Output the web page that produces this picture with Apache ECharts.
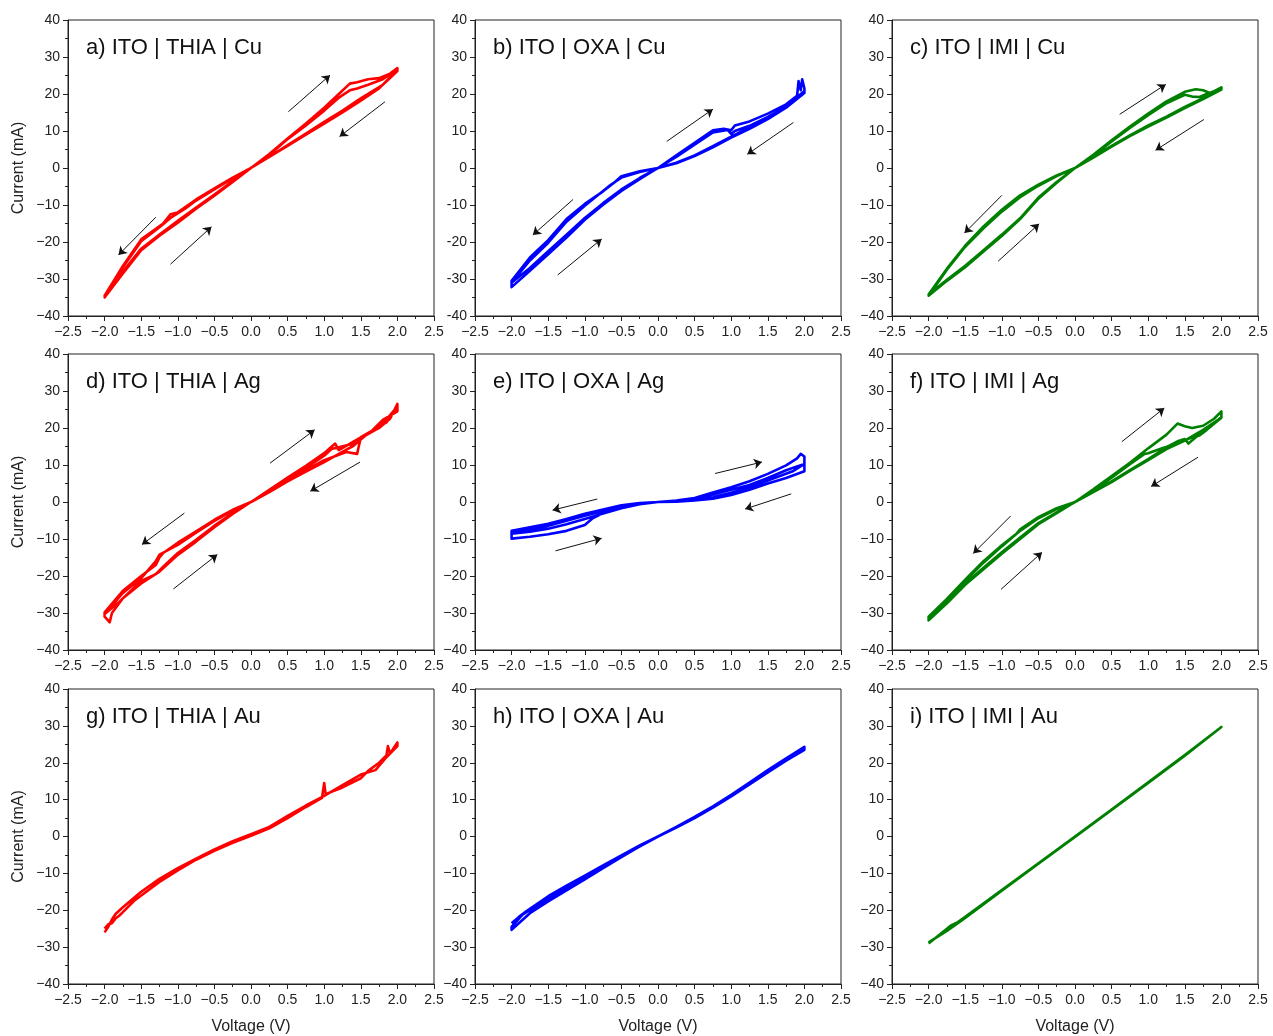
<!DOCTYPE html>
<html>
<head>
<meta charset="utf-8">
<script src="https://cdn.jsdelivr.net/npm/echarts@6/dist/echarts.min.js"></script>
<style>
html,body{margin:0;padding:0;background:#fff}
#chart{width:1273px;height:1036px}
</style>
</head>
<body>
<div id="chart"></div>
<script>
// panel labels, row by row
const titles = [
  'a) ITO | THIA | Cu', 'b) ITO | OXA | Cu', 'c) ITO | IMI | Cu',
  'd) ITO | THIA | Ag', 'e) ITO | OXA | Ag', 'f) ITO | IMI | Ag',
  'g) ITO | THIA | Au', 'h) ITO | OXA | Au', 'i) ITO | IMI | Au'
]
const xTicks = [-2.5, -2.0, -1.5, -1.0, -0.5, 0.0, 0.5, 1.0, 1.5, 2.0, 2.5]
const yTicks = [-40, -30, -20, -10, 0, 10, 20, 30, 40]

// I-V sweeps, [voltage V, current mA], in sweep order
const ivA = [
  [0,0],[0.25,3.8],[0.5,8],[0.75,12],[1.0,16.3],[1.2,20],[1.35,22.8],[1.45,23.2],[1.6,24],[1.75,24.3],[1.9,25.5],[2.0,27],
  [2.0,26.2],[1.8,22.5],[1.5,18.8],[1.25,15.5],[1.0,12.5],[0.75,9.3],[0.5,6.2],[0.25,3],[0,0],
  [-0.25,-2.8],[-0.5,-5.8],[-0.75,-8.8],[-0.9,-11],[-1.1,-13.5],[-1.25,-16],[-1.5,-19.8],[-1.75,-26.8],[-2.0,-35],
  [-2.0,-35.5],[-1.75,-28.5],[-1.5,-22.2],[-1.25,-18.3],[-1.0,-14.8],[-0.75,-11],[-0.5,-7.5],[-0.25,-3.8],[0,0],
  [0.25,3.5],[0.5,7.8],[0.75,11.5],[1.0,15.5],[1.2,19],[1.35,21],[1.45,21.5],[1.6,22.5],[1.8,24],[2.0,26.5],
  [1.75,21.5],[1.5,18.2],[1.25,15],[1.0,12],[0.75,9],[0.5,6],[0.25,3],[0,0],
  [-0.25,-2.6],[-0.5,-5.5],[-0.75,-8.5],[-1.0,-12],[-1.1,-12.5],[-1.2,-15],[-1.5,-19.3],[-1.75,-26.5],[-2.0,-34.5],
  [-1.75,-28],[-1.5,-21.8],[-1.25,-18],[-1.0,-14.3],[-0.75,-10.7],[-0.5,-7.2],[-0.25,-3.5],[0,0]
]
const ivB = [
  [0,0],[0.25,3.4],[0.5,6.8],[0.75,10.2],[0.9,10.6],[1.0,10.2],[1.05,11.5],[1.25,12.6],[1.5,14.7],[1.75,17.2],[1.9,19.5],[1.92,23.5],[1.95,21],[1.97,24],[2.0,21.5],
  [2.0,20.3],[1.75,16.3],[1.5,13.2],[1.25,10.6],[1.0,8.2],[0.75,5.6],[0.5,3.2],[0.25,1.3],[0,0],
  [-0.25,-0.9],[-0.5,-2.2],[-0.6,-4],[-0.75,-6.3],[-1.0,-9.7],[-1.25,-13.8],[-1.5,-19.5],[-1.75,-24.2],[-2.0,-30.5],
  [-2.0,-32.2],[-1.75,-27.8],[-1.5,-23.3],[-1.25,-18.8],[-1.0,-14],[-0.75,-9.9],[-0.5,-6.2],[-0.25,-3],[0,0],
  [0.25,3.0],[0.5,6.3],[0.75,9.6],[0.95,10.3],[1.0,9.2],[1.05,10],[1.25,11.4],[1.5,13.8],[1.75,16.5],[1.9,18.7],[2.0,20.8],
  [1.75,16.7],[1.5,13.6],[1.25,11],[1.0,8.5],[0.75,5.9],[0.5,3.4],[0.25,1.4],[0,0],
  [-0.25,-1.1],[-0.5,-2.6],[-0.65,-4.6],[-1.0,-10.2],[-1.25,-14.5],[-1.5,-20.2],[-1.75,-25],[-2.0,-31],
  [-1.75,-27],[-1.5,-22.5],[-1.25,-18],[-1.0,-13.5],[-0.75,-9.5],[-0.5,-5.8],[-0.25,-2.7],[0,0]
]
const ivC = [
  [0,0],[0.25,3.6],[0.5,7.5],[0.75,11.2],[1.0,14.7],[1.25,18],[1.5,20.6],[1.65,21.3],[1.75,21],[1.85,20.2],[2.0,21.8],
  [2.0,21.2],[1.75,18.6],[1.5,16.2],[1.25,13.6],[1.0,11.2],[0.75,8.6],[0.5,5.8],[0.25,2.8],[0,0],
  [-0.25,-2.2],[-0.5,-4.8],[-0.75,-7.9],[-1.0,-11.8],[-1.25,-16.3],[-1.5,-21.3],[-1.75,-27.5],[-2.0,-34.5],
  [-2.0,-35],[-1.75,-30.5],[-1.5,-26.8],[-1.25,-22.6],[-1.0,-18.4],[-0.75,-13.8],[-0.5,-8.3],[-0.25,-4],[0,0],
  [0.25,3.3],[0.5,7.2],[0.75,10.8],[1.0,14.3],[1.25,17.5],[1.5,19.8],[1.6,19.3],[1.7,19.2],[1.8,20],[2.0,21.5],
  [1.75,18.9],[1.5,16.5],[1.25,13.9],[1.0,11.5],[0.75,8.8],[0.5,6],[0.25,3],[0,0],
  [-0.25,-2],[-0.5,-4.5],[-0.75,-7.4],[-1.0,-11.3],[-1.25,-15.8],[-1.5,-21],[-1.75,-27.2],[-2.0,-34.2],
  [-1.75,-30.2],[-1.5,-26.4],[-1.25,-22.2],[-1.0,-18],[-0.75,-13.6],[-0.5,-8],[-0.25,-3.8],[0,0]
]
const ivD = [
  [0,0],[0.25,3.3],[0.5,6.6],[0.75,9.8],[1.0,13.2],[1.15,15.8],[1.2,14],[1.4,16.3],[1.6,18.6],[1.75,20],[1.9,22.5],[2.0,26.5],
  [2.0,24.5],[1.8,22.2],[1.65,19.2],[1.5,17.5],[1.45,13],[1.3,13.5],[1.0,11.3],[0.75,8.6],[0.5,5.9],[0.25,2.9],[0,0],
  [-0.25,-2.1],[-0.5,-4.8],[-0.75,-7.9],[-1.0,-11],[-1.2,-13.8],[-1.25,-15],[-1.3,-17],[-1.5,-20],[-1.75,-24],[-2.0,-29.8],
  [-2.0,-31],[-1.93,-32.5],[-1.9,-30],[-1.75,-26],[-1.5,-22],[-1.25,-18.8],[-1.0,-14.3],[-0.75,-10.7],[-0.5,-6.8],[-0.25,-3.2],[0,0],
  [0.25,3],[0.5,6.2],[0.75,9.2],[1.0,12.5],[1.1,14.3],[1.2,14.8],[1.4,15.8],[1.55,17.8],[1.7,19.5],[1.9,23.5],[2.0,25.8],
  [1.85,21.5],[1.6,18.6],[1.4,15.2],[1.2,13],[1.0,10.8],[0.75,8.2],[0.5,5.6],[0.25,2.7],[0,0],
  [-0.25,-2.3],[-0.5,-5.1],[-0.75,-8.3],[-1.0,-11.6],[-1.25,-14.2],[-1.3,-16],[-1.5,-20.6],[-1.75,-24.6],[-2.0,-30.3],
  [-1.8,-27],[-1.5,-21.3],[-1.3,-19.5],[-1.2,-17.5],[-1.0,-13.8],[-0.75,-10.2],[-0.5,-6.4],[-0.25,-3],[0,0]
]
const ivE = [
  [0,0],[0.25,0.4],[0.5,1.1],[0.75,2.6],[1.0,4.0],[1.25,5.6],[1.5,7.6],[1.75,9.9],[1.9,11.8],[1.95,13],[2.0,12.3],
  [2.0,8.3],[1.75,6.5],[1.5,5],[1.25,3.3],[1.0,1.9],[0.75,0.9],[0.5,0.4],[0.25,0.1],[0,0],
  [-0.25,-0.3],[-0.5,-0.9],[-0.75,-2],[-1.0,-3.2],[-1.25,-4.6],[-1.5,-5.9],[-1.75,-6.8],[-2.0,-7.8],
  [-2.0,-9.9],[-1.75,-9.4],[-1.5,-8.7],[-1.25,-7.8],[-1.0,-6.2],[-0.9,-4.5],[-0.75,-3],[-0.5,-1.6],[-0.25,-0.6],[0,0],
  [0.25,0.3],[0.5,0.9],[0.75,2],[1.0,3.3],[1.25,4.6],[1.5,6.5],[1.75,8.6],[2.0,10.3],
  [1.85,8.4],[1.5,5.8],[1.25,4],[1.0,2.5],[0.75,1.3],[0.5,0.6],[0.25,0.2],[0,0],
  [-0.25,-0.4],[-0.5,-1.2],[-0.75,-2.4],[-1.0,-3.7],[-1.25,-5.1],[-1.5,-6.4],[-1.75,-7.4],[-2.0,-8.6],
  [-1.75,-8],[-1.5,-7.2],[-1.25,-6],[-1.0,-4.6],[-0.75,-3.1],[-0.5,-1.7],[-0.25,-0.6],[0,0]
]
const ivF = [
  [0,0],[0.25,3.4],[0.5,7],[0.75,10.6],[1.0,14.5],[1.25,18.2],[1.4,21.2],[1.5,20.5],[1.6,20],[1.75,20.6],[1.9,22.5],[2.0,24.5],
  [2.0,23],[1.8,19.6],[1.65,17.5],[1.55,15.8],[1.5,17],[1.4,16.4],[1.25,14.8],[1.0,11.6],[0.75,8.6],[0.5,5.6],[0.25,2.8],[0,0],
  [-0.25,-1.7],[-0.5,-4.1],[-0.75,-7.4],[-0.8,-8.6],[-1.0,-11.7],[-1.25,-16],[-1.5,-21],[-1.75,-26.2],[-2.0,-31],
  [-2.0,-32],[-1.75,-27.4],[-1.5,-22.4],[-1.25,-18.2],[-1.0,-14],[-0.75,-10],[-0.5,-6],[-0.25,-3],[0,0],
  [0.25,3.1],[0.5,6.6],[0.75,10.2],[0.95,13],[1.0,13.2],[1.2,14.6],[1.4,15.8],[1.6,17.5],[1.7,18],[1.8,19.5],[2.0,22.8],
  [1.75,19.5],[1.5,16.6],[1.25,14.3],[1.0,11.3],[0.75,8.4],[0.5,5.4],[0.25,2.7],[0,0],
  [-0.25,-1.9],[-0.5,-4.4],[-0.75,-7.8],[-1.0,-12],[-1.25,-16.4],[-1.5,-21.3],[-1.75,-26.5],[-2.0,-31.5],
  [-1.75,-27],[-1.5,-22],[-1.25,-17.8],[-1.0,-13.6],[-0.75,-9.6],[-0.5,-5.7],[-0.25,-2.8],[0,0]
]
const ivG = [
  [-2.0,-25],[-1.95,-23.8],[-1.9,-23.5],[-1.85,-22.2],[-1.8,-21.5],[-1.75,-20.5],[-1.6,-17.5],[-1.5,-16],[-1.25,-12.3],[-1.0,-9.2],[-0.75,-6.3],[-0.5,-3.9],[-0.25,-1.7],[0,0.2],
  [0.25,2.2],[0.5,5],[0.75,8],[0.97,10.5],[1.0,14.5],[1.02,11.5],[1.25,13.3],[1.5,15.8],[1.6,17.8],[1.75,20],[1.85,22],[1.87,24.5],[1.9,22.5],[2.0,25.5],
  [2.0,24.5],[1.85,21.5],[1.7,18],[1.5,16.8],[1.25,13.9],[1.0,11],[0.75,8.4],[0.5,5.6],[0.25,2.6],[0,0.6],
  [-0.25,-1.3],[-0.5,-3.5],[-0.75,-6],[-1.0,-8.6],[-1.25,-11.5],[-1.5,-15],[-1.75,-19.2],[-1.85,-21],[-1.9,-22.5],[-1.95,-24.5],[-2.0,-26]
]
const ivH = [
  [-2.0,-23.5],[-1.9,-21.8],[-1.8,-20.3],[-1.5,-16.2],[-1.25,-13.3],[-1.0,-10.6],[-0.75,-7.8],[-0.5,-5.1],[-0.25,-2.4],[0,0],
  [0.25,2.6],[0.5,5.3],[0.75,8.2],[1.0,11.3],[1.25,14.6],[1.5,18],[1.75,21.2],[2.0,24.3],
  [2.0,23.5],[1.75,20.6],[1.5,17.4],[1.25,14.1],[1.0,10.9],[0.75,7.8],[0.5,5],[0.25,2.4],[0,0],
  [-0.25,-2.7],[-0.5,-5.6],[-0.75,-8.6],[-1.0,-11.6],[-1.25,-14.6],[-1.5,-17.6],[-1.75,-20.8],[-2.0,-25.3],
  [-2.0,-24.5],[-1.85,-21.2],[-1.5,-16.8],[-1.0,-11.2],[-0.5,-5.4],[0,0]
]
const ivI = [
  [-2.0,-29],[-1.75,-25],[-1.7,-24.2],[-1.6,-23.2],[-1.5,-21.8],[-1.0,-14.5],[-0.5,-7.3],[0,0],[0.5,7.3],[1.0,14.7],[1.5,22.1],[2.0,29.7],
  [1.5,21.9],[1.0,14.5],[0.5,7.2],[0,-0.1],[-0.5,-7.4],[-1.0,-14.7],[-1.5,-22.1],[-1.75,-25.6],[-2.0,-28.7]
]
const curves = [ivA, ivB, ivC, ivD, ivE, ivF, ivG, ivH, ivI]

// sweep direction arrows: [x0, y0, x1, y1] in V / mA
const arrowsA = [[0.51,15.2,1.08,25.1],[1.83,17.9,1.21,8.5],[-1.30,-13.3,-1.81,-23.5],[-1.10,-26.0,-0.54,-15.9]]
const arrowsB = [[0.12,7.2,0.75,15.9],[1.85,12.3,1.22,3.7],[-1.16,-8.5,-1.71,-18.1],[-1.37,-28.9,-0.77,-19.2]]
const arrowsC = [[0.61,14.5,1.24,22.6],[1.76,13.1,1.10,4.8],[-1.00,-7.4,-1.51,-17.6],[-1.05,-25.2,-0.49,-15.1]]
const arrowsD = [[0.26,10.5,0.87,19.5],[1.49,10.8,0.81,2.9],[-0.91,-3.0,-1.49,-11.5],[-1.06,-23.5,-0.46,-14.2]]
const arrowsE = [[0.78,7.7,1.42,10.8],[1.82,2.2,1.19,-1.9],[-0.83,0.8,-1.44,-2.2],[-1.40,-13.2,-0.77,-9.8]]
const arrowsF = [[0.64,16.3,1.22,25.4],[1.68,12.1,1.04,4.2],[-0.88,-3.8,-1.39,-13.9],[-1.01,-23.6,-0.45,-13.6]]
const arrows = [arrowsA, arrowsB, arrowsC, arrowsD, arrowsE, arrowsF, [], [], []]

const colors = ['#ff0000', '#0000ff', '#008000']

const font = '"Liberation Sans", Arial, sans-serif'
const lefts = [68, 475, 892]
const tops = [20, 354, 689]
const W = 366, H = 296

const chart = echarts.init(document.getElementById('chart'))

const grid = [], xAxis = [], yAxis = [], series = [], title = []
for (let i = 0; i < 9; i++) {
  const col = i % 3, row = Math.floor(i / 3)
  grid.push({ left: lefts[col], top: tops[row], width: W, height: H,
    show: true, borderColor: '#222', borderWidth: 1 })
  title.push({ text: titles[i], left: lefts[col] + 18, top: tops[row] + 17, padding: 0,
    textStyle: { fontSize: 22, fontWeight: 'normal', color: '#111', fontFamily: font } })
  const minus = col === 1 && row === 0 ? '-' : '\u2212'
  xAxis.push({
    gridIndex: i, type: 'value', min: xTicks[0], max: xTicks[xTicks.length - 1], interval: 0.5,
    name: row === 2 ? 'Voltage (V)' : '', nameLocation: 'middle', nameGap: 35,
    nameTextStyle: { fontSize: 16, color: '#222', fontFamily: font },
    axisLine: { onZero: false, lineStyle: { color: '#222', width: 1 } },
    axisTick: { length: 5, lineStyle: { color: '#222' } },
    minorTick: { show: true, splitNumber: 2, length: 3, lineStyle: { color: '#222' } },
    splitLine: { show: false },
    axisLabel: { color: '#222', fontSize: 14, fontFamily: font, margin: 9,
      formatter: v => v.toFixed(1).replace('-', '\u2212') }
  })
  yAxis.push({
    gridIndex: i, type: 'value', min: yTicks[0], max: yTicks[yTicks.length - 1], interval: 10,
    name: col === 0 ? 'Current (mA)' : '', nameLocation: 'middle', nameGap: 41,
    nameTextStyle: { fontSize: 16, color: '#222', fontFamily: font },
    axisLine: { onZero: false, lineStyle: { color: '#222', width: 1 } },
    axisTick: { length: 5, lineStyle: { color: '#222' } },
    minorTick: { show: true, splitNumber: 2, length: 3, lineStyle: { color: '#222' } },
    splitLine: { show: false },
    axisLabel: { color: '#222', fontSize: 14, fontFamily: font, margin: 8,
      formatter: v => String(v).replace('-', minus) }
  })
  series.push({
    type: 'line', xAxisIndex: i, yAxisIndex: i, data: curves[i],
    symbol: 'none', showSymbol: false, clip: true,
    lineStyle: { color: colors[col], width: 2.6, join: 'round' }, z: 2
  })
  if (arrows[i].length) {
    series.push({
      type: 'lines', coordinateSystem: 'cartesian2d', xAxisIndex: i, yAxisIndex: i,
      symbol: ['none', 'arrow'], symbolSize: 8,
      lineStyle: { color: '#111', width: 1, opacity: 1 },
      data: arrows[i].map(a => ({ coords: [[a[0], a[1]], [a[2], a[3]]] })),
      z: 3
    })
  }
}

chart.setOption({
  animation: false,
  backgroundColor: '#fff',
  textStyle: { fontFamily: font },
  title, grid, xAxis, yAxis, series
})
</script>
</body>
</html>
